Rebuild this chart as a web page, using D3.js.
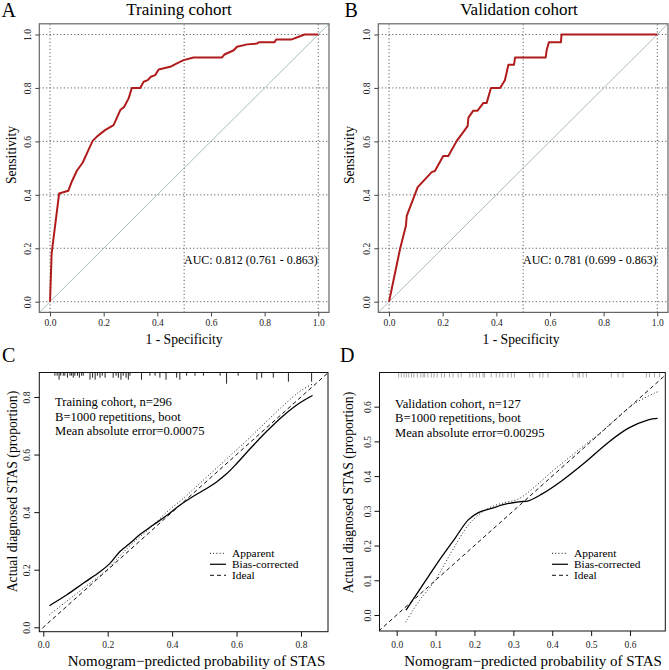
<!DOCTYPE html>
<html>
<head>
<meta charset="utf-8">
<script src="https://cdn.jsdelivr.net/npm/d3@7"></script>
<style>
  html, body { margin: 0; padding: 0; background: #fff; }
  svg { display: block; font-family: "Liberation Serif", "Times New Roman", serif; }
</style>
</head>
<body>
<svg id="chart" width="669" height="670"></svg>
<script>
// ---------------- DATA ----------------
const rocTicks = [0, 0.2, 0.4, 0.6, 0.8, 1.0];
const rocGridX = [0, 0.5, 1.0];
const rocGridY = [0, 0.2, 0.4, 0.6, 0.8, 1.0];

const rocA_fpr = [0, 0.006, 0.034, 0.068, 0.081, 0.100, 0.122, 0.143, 0.159, 0.174, 0.205, 0.237, 0.262, 0.276, 0.293, 0.305, 0.336, 0.349, 0.364, 0.376, 0.392, 0.405, 0.448, 0.473, 0.498, 0.535, 0.641, 0.650, 0.685, 0.697, 0.735, 0.772, 0.778, 0.837, 0.843, 0.899, 0.949, 1.0];
const rocA_tpr = [0, 0.181, 0.405, 0.415, 0.449, 0.490, 0.521, 0.567, 0.602, 0.617, 0.642, 0.661, 0.717, 0.729, 0.761, 0.800, 0.800, 0.823, 0.829, 0.842, 0.848, 0.869, 0.879, 0.892, 0.904, 0.914, 0.914, 0.925, 0.941, 0.954, 0.963, 0.966, 0.971, 0.971, 0.981, 0.981, 1.0, 1.0];

const rocB_fpr = [0, 0.041, 0.063, 0.066, 0.107, 0.159, 0.171, 0.202, 0.221, 0.252, 0.293, 0.296, 0.314, 0.330, 0.352, 0.364, 0.380, 0.414, 0.432, 0.445, 0.466, 0.470, 0.584, 0.588, 0.596, 0.641, 0.643, 1.0];
const rocB_tpr = [0, 0.197, 0.284, 0.321, 0.429, 0.485, 0.489, 0.545, 0.545, 0.601, 0.657, 0.689, 0.715, 0.715, 0.744, 0.744, 0.800, 0.800, 0.829, 0.887, 0.887, 0.914, 0.914, 0.943, 0.971, 0.971, 1.0, 1.0];

const calC_ticksX = [0, 0.2, 0.4, 0.6, 0.8];
const calC_ticksY = [0, 0.2, 0.4, 0.6, 0.8];
const calC_biasX = [0.019, 0.072, 0.124, 0.176, 0.207, 0.238, 0.269, 0.300, 0.341, 0.383, 0.424, 0.466, 0.507, 0.538, 0.569, 0.600, 0.642, 0.693, 0.745, 0.797, 0.836];
const calC_biasY = [0.075, 0.112, 0.153, 0.193, 0.222, 0.263, 0.292, 0.322, 0.355, 0.388, 0.424, 0.455, 0.482, 0.505, 0.533, 0.568, 0.620, 0.680, 0.735, 0.780, 0.805];
const calC_appX = [0.019, 0.072, 0.124, 0.197, 0.238, 0.279, 0.331, 0.383, 0.435, 0.486, 0.538, 0.590, 0.642, 0.693, 0.745, 0.797, 0.836];
const calC_appY = [0.043, 0.090, 0.135, 0.199, 0.248, 0.294, 0.344, 0.400, 0.448, 0.500, 0.553, 0.606, 0.660, 0.715, 0.770, 0.820, 0.845];
const calC_rugX = [0.036, 0.043, 0.049, 0.054, 0.062, 0.067, 0.075, 0.083, 0.088, 0.093, 0.098, 0.106, 0.112, 0.119, 0.124, 0.145, 0.153, 0.161, 0.168, 0.176, 0.183, 0.192, 0.217, 0.226, 0.233, 0.241, 0.248, 0.257, 0.264, 0.269, 0.305, 0.331, 0.347, 0.362, 0.381, 0.414, 0.424, 0.445, 0.471, 0.497, 0.549, 0.569, 0.605, 0.663, 0.678, 0.714, 0.761, 0.833];
const calC_rugN = [1, 1, 3, 1, 1, 1, 2, 1, 1, 2, 1, 1, 2, 1, 1, 3, 2, 3, 1, 2, 1, 2, 2, 1, 2, 3, 1, 2, 3, 1, 3, 1, 1, 2, 3, 2, 3, 1, 1, 1, 1, 5, 1, 3, 2, 2, 4, 4];

const calD_ticksX = [0, 0.1, 0.2, 0.3, 0.4, 0.5, 0.6];
const calD_ticksY = [0, 0.1, 0.2, 0.3, 0.4, 0.5, 0.6];
const calD_biasX = [0.024, 0.047, 0.081, 0.116, 0.150, 0.184, 0.210, 0.244, 0.279, 0.313, 0.339, 0.373, 0.424, 0.484, 0.544, 0.596, 0.647, 0.671];
const calD_biasY = [0.014, 0.053, 0.110, 0.168, 0.221, 0.274, 0.295, 0.307, 0.319, 0.326, 0.329, 0.348, 0.386, 0.439, 0.497, 0.538, 0.562, 0.566];
const calD_appX = [0.023, 0.056, 0.099, 0.141, 0.184, 0.210, 0.244, 0.279, 0.313, 0.356, 0.399, 0.441, 0.484, 0.527, 0.570, 0.613, 0.671];
const calD_appY = [-0.021, 0.038, 0.100, 0.182, 0.259, 0.288, 0.312, 0.324, 0.334, 0.370, 0.413, 0.451, 0.490, 0.528, 0.571, 0.610, 0.643];
const calD_rugX = [0.005, 0.012, 0.019, 0.025, 0.031, 0.038, 0.044, 0.053, 0.062, 0.068, 0.072, 0.080, 0.089, 0.096, 0.104, 0.115, 0.123, 0.136, 0.145, 0.158, 0.166, 0.188, 0.196, 0.205, 0.213, 0.222, 0.226, 0.243, 0.256, 0.265, 0.273, 0.286, 0.295, 0.303, 0.342, 0.350, 0.368, 0.376, 0.389, 0.453, 0.466, 0.470, 0.479, 0.488, 0.552, 0.569, 0.582, 0.642, 0.650, 0.663, 0.676];

const legendLabels = ["Apparent", "Bias-corrected", "Ideal"];
const textC = ["Training cohort, n=296", "B=1000 repetitions, boot", "Mean absolute error=0.00075"];
const textD = ["Validation cohort, n=127", "B=1000 repetitions, boot", "Mean absolute error=0.00295"];

// ---------------- DRAW ----------------
const svg = d3.select("#chart");
svg.append("rect").attr("width", 669).attr("height", 670).attr("fill", "#fff");
const fmt1 = d3.format(".1f");
let clipId = 0;

function drawAxes(g, x, y, tx, ty, opt) {
  const [bx0, bx1] = x.range();
  const [by0, by1] = y.range();
  const ax = g.append("g").attr("transform", `translate(0,${by0})`)
    .call(d3.axisBottom(x).tickValues(tx).tickSize(opt.tick).tickPadding(opt.padX).tickFormat(fmt1));
  ax.select(".domain").remove();
  ax.selectAll("line").attr("stroke", opt.axisColor);
  ax.selectAll("text").attr("font-size", opt.tickFont).attr("font-family", "Liberation Serif").attr("fill", "#222");
  const ay = g.append("g").attr("transform", `translate(${bx0},0)`)
    .call(d3.axisLeft(y).tickValues(ty).tickSize(opt.tick).tickFormat(fmt1));
  ay.select(".domain").remove();
  ay.selectAll("line").attr("stroke", opt.axisColor);
  ay.selectAll("text")
    .attr("x", null).attr("dy", null)
    .attr("transform", `translate(${-opt.padY},0) rotate(-90)`)
    .attr("text-anchor", "middle")
    .attr("font-size", opt.tickFont).attr("font-family", "Liberation Serif").attr("fill", "#222");
}

function clipFor(g, x, y) {
  const id = "clip" + (clipId++);
  const [bx0, bx1] = x.range();
  const [by0, by1] = y.range();
  g.append("clipPath").attr("id", id).append("rect")
    .attr("x", bx0).attr("y", by1).attr("width", bx1 - bx0).attr("height", by0 - by1);
  return id;
}

function rocPanel(cfg) {
  const g = svg.append("g");
  const x = d3.scaleLinear().domain([-0.04, 1.04]).range(cfg.xr);
  const y = d3.scaleLinear().domain([-0.04, 1.04]).range(cfg.yr);
  const cid = clipFor(g, x, y);
  const pg = g.append("g").attr("clip-path", `url(#${cid})`);
  pg.selectAll(".gx").data(rocGridX).join("line")
    .attr("x1", d => x(d)).attr("x2", d => x(d)).attr("y1", y.range()[0]).attr("y2", y.range()[1])
    .attr("stroke", "#444").attr("stroke-width", 1).attr("stroke-dasharray", "1,2.5");
  pg.selectAll(".gy").data(rocGridY).join("line")
    .attr("y1", d => y(d)).attr("y2", d => y(d)).attr("x1", x.range()[0]).attr("x2", x.range()[1])
    .attr("stroke", "#444").attr("stroke-width", 1).attr("stroke-dasharray", "1,2.5");
  pg.append("line").attr("x1", x(-0.04)).attr("y1", y(-0.04)).attr("x2", x(1.04)).attr("y2", y(1.04))
    .attr("stroke", "#a9bdbf").attr("stroke-width", 1);
  const pts = cfg.fpr.map((d, i) => [d, cfg.tpr[i]]);
  pg.append("path").datum(pts)
    .attr("d", d3.line().x(d => x(d[0])).y(d => y(d[1])))
    .attr("fill", "none").attr("stroke", "#b01c1c").attr("stroke-width", 2).attr("stroke-linejoin", "round");
  g.append("rect").attr("x", x.range()[0]).attr("y", y.range()[1])
    .attr("width", x.range()[1] - x.range()[0]).attr("height", y.range()[0] - y.range()[1])
    .attr("fill", "none").attr("stroke", "#666").attr("stroke-width", 1.2);
  drawAxes(g, x, y, rocTicks, rocTicks, { tick: 4, padX: 3, padY: 8, tickFont: 9.5, axisColor: "#444" });
  g.append("text").attr("x", cfg.titleX).attr("y", 14.5).attr("text-anchor", "middle")
    .attr("font-size", 17).text(cfg.title);
  g.append("text").attr("x", cfg.letterX).attr("y", 17).attr("font-size", 20).text(cfg.letter);
  g.append("text").attr("x", cfg.xlabX).attr("y", 343.5).attr("text-anchor", "middle")
    .attr("font-size", 13.6).text("1 - Specificity");
  g.append("text").attr("transform", `translate(${cfg.ylabX},${cfg.ylabY}) rotate(-90)`)
    .attr("text-anchor", "middle").attr("font-size", 13.6).text("Sensitivity");
  g.append("text").attr("x", cfg.aucX).attr("y", 263.5)
    .attr("font-size", 12).text(cfg.auc);
}

rocPanel({ xr: [39.3, 329], yr: [312.4, 23.8], fpr: rocA_fpr, tpr: rocA_tpr, title: "Training cohort", titleX: 179,
  letter: "A", letterX: 1.5, xlabX: 184, ylabX: 15.5, ylabY: 155, auc: "AUC: 0.812 (0.761 - 0.863)", aucX: 184 });
rocPanel({ xr: [378.3, 668], yr: [312.4, 23.8], fpr: rocB_fpr, tpr: rocB_tpr, title: "Validation cohort", titleX: 519,
  letter: "B", letterX: 344.5, xlabX: 521, ylabX: 354, ylabY: 155, auc: "AUC: 0.781 (0.699 - 0.863)", aucX: 523 });

function calPanel(cfg) {
  const g = svg.append("g");
  const x = d3.scaleLinear().domain(cfg.xd).range(cfg.xr);
  const y = d3.scaleLinear().domain(cfg.yd).range(cfg.yr);
  const cid = clipFor(g, x, y);
  const pg = g.append("g").attr("clip-path", `url(#${cid})`);
  pg.append("line").attr("x1", x(-0.1)).attr("y1", y(-0.1)).attr("x2", x(1)).attr("y2", y(1))
    .attr("stroke", "#111").attr("stroke-width", 1).attr("stroke-dasharray", "4,3");
  const line = d3.line().x(d => x(d[0])).y(d => y(d[1])).curve(d3.curveCatmullRom.alpha(0.5));
  pg.append("path").datum(cfg.appX.map((d, i) => [d, cfg.appY[i]]))
    .attr("d", line).attr("fill", "none").attr("stroke", "#222").attr("stroke-width", 1)
    .attr("stroke-dasharray", "1,2.2");
  pg.append("path").datum(cfg.biasX.map((d, i) => [d, cfg.biasY[i]]))
    .attr("d", line).attr("fill", "none").attr("stroke", "#000").attr("stroke-width", 1.3);
  const top = y.range()[1];
  pg.selectAll(".rug").data(cfg.rugX).join("line")
    .attr("x1", d => x(d)).attr("x2", d => x(d)).attr("y1", top)
    .attr("y2", (d, i) => top + (cfg.rugN ? 1.2 + cfg.rugN[i] * 2.0 : 5))
    .attr("stroke", cfg.rugColor).attr("stroke-width", 1);
  g.append("rect").attr("x", x.range()[0]).attr("y", y.range()[1])
    .attr("width", x.range()[1] - x.range()[0]).attr("height", y.range()[0] - y.range()[1])
    .attr("fill", "none").attr("stroke", "#111").attr("stroke-width", 1);
  drawAxes(g, x, y, cfg.tx, cfg.ty, { tick: 5, padX: 5, padY: 9, tickFont: 9.5, axisColor: "#111" });
  cfg.text.forEach((t, i) => {
    g.append("text").attr("x", cfg.textX).attr("y", cfg.textY + i * 14.6).attr("font-size", 12.6).text(t);
  });
  const styles = ["1,2.2", null, "4,3"];
  legendLabels.forEach((t, i) => {
    const yy = cfg.legY + i * 11;
    g.append("line").attr("x1", cfg.legX).attr("x2", cfg.legX + 16).attr("y1", yy).attr("y2", yy)
      .attr("stroke", "#111").attr("stroke-width", i === 1 ? 1.3 : 1)
      .attr("stroke-dasharray", styles[i]);
    g.append("text").attr("x", cfg.legX + 22).attr("y", yy).attr("dy", "0.33em").attr("font-size", 11.4).text(t);
  });
  g.append("text").attr("x", cfg.letterX).attr("y", 362).attr("font-size", 20).text(cfg.letter);
  g.append("text").attr("x", cfg.xlabX).attr("y", 665.5).attr("text-anchor", "middle")
    .attr("font-size", 15).text("Nomogram\u2212predicted probability of STAS");
  g.append("text").attr("transform", `translate(${cfg.ylabX},${cfg.ylabY}) rotate(-90)`)
    .attr("text-anchor", "middle").attr("font-size", 13.7).text("Actual diagnosed STAS (proportion)");
}

calPanel({ xd: [-0.0124, 0.8839], xr: [39.3, 328], yd: [-0.0153, 0.885], yr: [631.7, 372.5],
  tx: calC_ticksX, ty: calC_ticksY, biasX: calC_biasX, biasY: calC_biasY, appX: calC_appX, appY: calC_appY,
  rugX: calC_rugX, rugN: calC_rugN, rugColor: "#222", text: textC, textX: 55, textY: 406,
  legX: 210, legY: 553.3, letter: "C", letterX: 2, xlabX: 196.5, ylabX: 17, ylabY: 491.5 });
calPanel({ xd: [-0.0442, 0.6907], xr: [379.5, 665.3], yd: [-0.0461, 0.6984], yr: [631, 372.5],
  tx: calD_ticksX, ty: calD_ticksY, biasX: calD_biasX, biasY: calD_biasY, appX: calD_appX, appY: calD_appY,
  rugX: calD_rugX, rugN: null, rugColor: "#aaa", text: textD, textX: 395, textY: 407.5,
  legX: 552, legY: 553.3, letter: "D", letterX: 340, xlabX: 533, ylabX: 353, ylabY: 492.5 });
</script>
</body>
</html>
